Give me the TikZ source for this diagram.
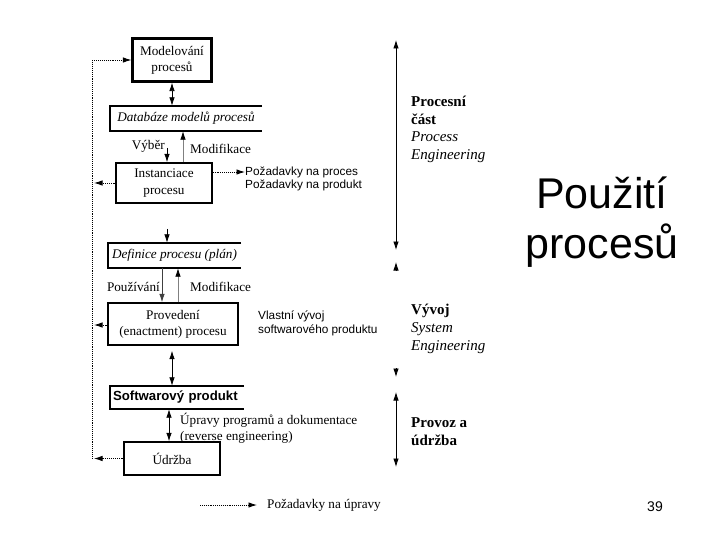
\documentclass[tikz,border=0pt]{standalone}
\usepackage{fontspec}
\setmainfont{Liberation Serif}
\setsansfont{Liberation Sans}
\usetikzlibrary{arrows.meta}
\tikzset{box/.style={draw, line width=1.4pt, inner sep=0pt, align=center, font=\fontsize{13.2}{16}\selectfont},
         store/.style={inner sep=0pt, font=\fontsize{13.2}{16}\selectfont},
         lbl/.style={inner sep=0pt, align=left, font=\fontsize{13.2}{16}\selectfont},
         sans/.style={inner sep=0pt, align=left, font=\sffamily\fontsize{11.8}{14}\selectfont},
         side/.style={inner sep=0pt, align=left, anchor=west, font=\fontsize{15}{17.7}\selectfont},
         arr/.style={-{Latex[length=8.5pt,width=5.5pt]}, line width=0.8pt},
         grayarr/.style={-{Latex[length=8.5pt,width=5.5pt,color=black]}, draw=gray, line width=0.8pt},
         darr/.style={{Latex[length=8.5pt,width=5.5pt]}-{Latex[length=8.5pt,width=5.5pt]}, line width=0.8pt},
         req/.style={-{Latex[length=8.5pt,width=5.5pt]}, densely dotted, line width=0.9pt}}

\begin{document}
\begin{tikzpicture}[x=1pt, y=-1pt]
   \useasboundingbox[fill=white] (0,0) rectangle (720,540);
   % boxes of the left column
   \node[box, line width=2.2pt, minimum width=79, minimum height=43] (model) at (172,  60) {Modelování\\procesů};
   \node[store, minimum width=152, minimum height=25] (db)  at (186,118.5) {\itshape Databáze modelů procesů};
   \node[box, minimum width=96,  minimum height=40, font=\fontsize{13.2}{17}\selectfont] (inst) at (164, 183) {Instanciace\\procesu};
   \node[store, minimum width=133, minimum height=25] (def) at (174.5,255.5) {\itshape Definice procesu (plán)};
   \node[box, minimum width=130, minimum height=42] (prov) at (173, 324) {Provedení\\(enactment) procesu};
   \node[store, minimum width=134, minimum height=23, text width=128, font=\sffamily\bfseries\fontsize{13.2}{15}\selectfont] (sw) at (177,397.5) {Softwarový produkt};
   \node[box, minimum width=96,  minimum height=33] (udr) at (172,458.5) {Údržba};
   \draw[line width=1.5pt] (db.north east) -- (db.north west) -- (db.south west) -- (db.south east);
   \draw[line width=1.5pt] (def.north east) -- (def.north west) -- (def.south west) -- (def.south east);
   \draw[line width=1.5pt] (sw.north east) -- (sw.north west) -- (sw.south west) -- (sw.south east);
   % labels
   \node[lbl, anchor=east] (vyblbl) at (165,146) {Výběr};
   \node[lbl, anchor=west] (mod1) at (190,149) {Modifikace};
   \node[lbl, anchor=east] (pouz) at (160,287) {Používání};
   \node[lbl, anchor=west] (mod2) at (190,287) {Modifikace};
   \node[sans, anchor=west] (req1) at (245,172) {Požadavky na proces};
   \node[sans, anchor=west] (req2) at (245,185) {Požadavky na produkt};
   \node[sans, anchor=west] (vlast) at (258,323) {Vlastní vývoj\\softwarového produktu};
   \node[lbl, anchor=west] (upr) at (180,428) {Úpravy programů a dokumentace\\(reverse engineering)};
   % connectors of the left column
   \coordinate (vyb) at (167,148);
   \coordinate (defin) at (167,229);
   \coordinate (rail) at (92,0);
   \draw[darr] (model.south) -- (model.south |- db.north);
   \draw[arr] (vyb) -- (vyb |- inst.north);
   \draw[grayarr] ([xshift=19pt]inst.north) -- ([xshift=19pt]inst.north |- db.south);
   \draw[arr] (defin) -- (defin |- def.north);
   \draw[arr, draw=darkgray] ([xshift=-11pt]prov.north |- def.south) -- ([xshift=-11pt]prov.north);
   \draw[grayarr] ([xshift=5pt]prov.north) -- ([xshift=5pt]prov.north |- def.south);
   \draw[darr, shorten <=5pt] ([xshift=-1pt]prov.south) -- ([xshift=-1pt]prov.south |- sw.north);
   \draw[darr] ([xshift=-3pt]udr.north) -- ([xshift=-3pt]udr.north |- sw.south);
   % requests
   \draw[req] (inst.east |- req1) -- (req1.west);
   \draw[req, shorten >=2pt] (inst.west) -- (inst.west -| rail);
   \draw[req, shorten >=2pt] ([yshift=-1pt]prov.west) -- ([yshift=-1pt]prov.west -| rail);
   \draw[req, shorten >=2pt] (udr.west) -- (udr.west -| rail);
   \draw[req] (udr.west -| rail) -- (rail |- model.west) -- (model.west);
   % right column
   \coordinate (pe1) at (396, 40);
   \coordinate (pe2) at (396,250);
   \coordinate (se1) at (396,262);
   \coordinate (se2) at (396,271);
   \coordinate (se3) at (396,368);
   \coordinate (se4) at (396,377);
   \coordinate (pu1) at (396,392);
   \coordinate (pu2) at (396,467);
   \draw[darr] (pe1) -- (pe2);
   \draw[arr] (se2) -- (se1);
   \draw[arr] (se3) -- (se4);
   \draw[darr] (pu1) -- (pu2);
   \node[side] (pe) at (411,129.5) {\bfseries Procesní\\\bfseries část\\\itshape Process\\\itshape Engineering};
   \node[side] (se) at (411,329) {\bfseries Vývoj\\\itshape System\\\itshape Engineering};
   \node[side] (pu) at (411,432) {\bfseries Provoz a\\\bfseries údržba};
   % title and legend
   \node[inner sep=0pt, align=center, font=\sffamily\fontsize{43}{50}\selectfont] (title) at (602,222) {Použití\\procesů};
   \node[inner sep=0pt, font=\sffamily\fontsize{14}{16}\selectfont] (page) at (655,507) {39};
   \node[lbl, anchor=west] (legtext) at (267,505) {Požadavky na úpravy};
   \coordinate (leg) at (200,505);
   \draw[req] (leg) -- ([xshift=-10pt]legtext.west);
\end{tikzpicture}
\end{document}
